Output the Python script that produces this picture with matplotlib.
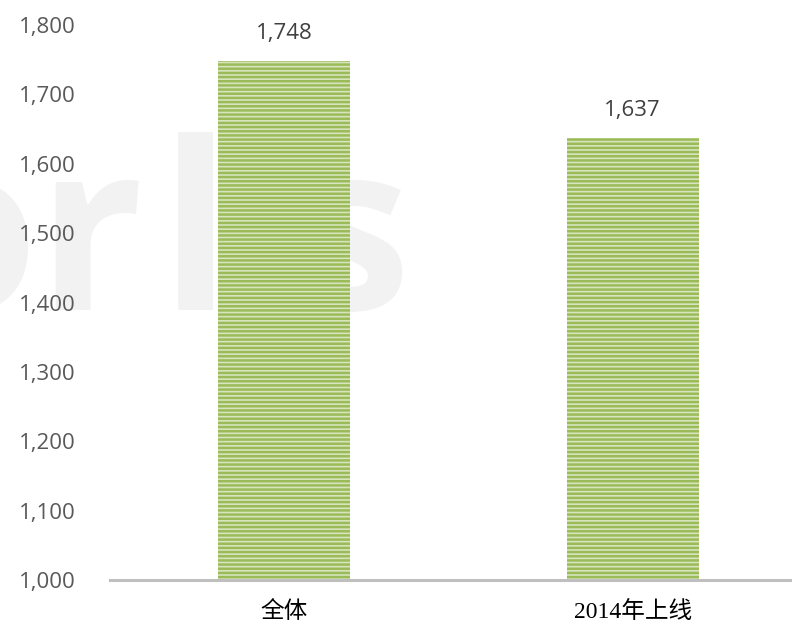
import matplotlib.pyplot as plt
from matplotlib.ticker import FuncFormatter

# data
categories = ['全体', '2014年上线']
values = [1748, 1637]
y_ticks = [1000, 1100, 1200, 1300, 1400, 1500, 1600, 1700, 1800]

plt.rcParams['hatch.linewidth'] = 1.8

fig = plt.figure(figsize=(7.92, 6.33), dpi=100)
ax = fig.add_axes([110/792, 1 - 580/633, 697/792, 555/633])

# faint watermark behind the bars (partly hidden by the first bar)
wm = dict(fontsize=168, fontweight='bold', family='Open Sans', color='#f2f2f2',
          transform=fig.transFigure, zorder=0, clip_on=False, va='baseline')
base = 1 - 310/633
ax.text(-0.135, base, 'or', **wm)
ax.text(0.202, base, 'l', **wm)
ax.text(0.372, base, 's', **wm)

x = range(len(categories))
ax.bar(x, [v - 1000 for v in values], bottom=1000, width=0.378,
       color='#d7e4bd', edgecolor='#9bbb59', linewidth=0, hatch='----', zorder=2)

for i, v in zip(x, values):
    ax.text(i, v + 24, f'{v:,}', ha='center', va='bottom', fontsize=16,
            family='Open Sans', color='#404040', zorder=3)

ax.set_xlim(-0.5, 1.5)
ax.set_ylim(1000, 1800)
ax.set_yticks(y_ticks)
ax.yaxis.set_major_formatter(FuncFormatter(lambda v, p: f'{int(v):,}'))
ax.set_xticks(list(x))
ax.set_xticklabels(categories, family=['Liberation Serif', 'Noto Sans CJK SC'],
                   fontsize=17, color='#000000')

ax.patch.set_alpha(0)
for s in ['top', 'right', 'left']:
    ax.spines[s].set_visible(False)
ax.spines['bottom'].set_color('#bfbfbf')
ax.spines['bottom'].set_linewidth(2.2)
ax.spines['bottom'].set_zorder(3)
ax.tick_params(axis='both', length=0)
ax.tick_params(axis='y', labelsize=16, labelcolor='#595959', pad=25)
ax.tick_params(axis='x', pad=15)
for lab in ax.get_yticklabels():
    lab.set_family('Open Sans')

fig.savefig('out.png', dpi=100)
